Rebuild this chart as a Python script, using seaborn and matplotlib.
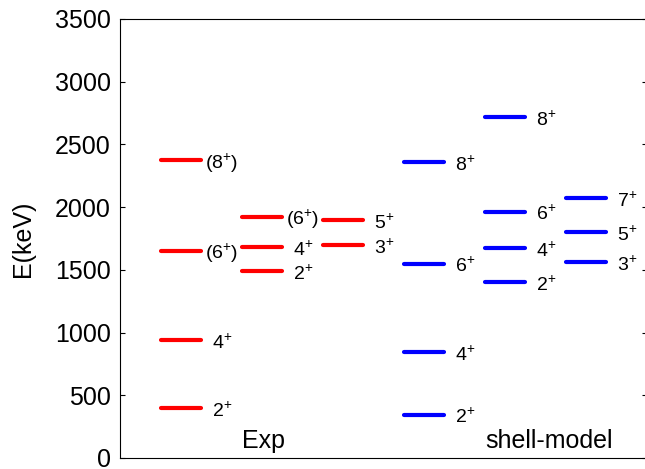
import matplotlib
matplotlib.use("Agg")
import matplotlib.pyplot as plt
import seaborn as sns
import pandas as pd

# Level energies (keV) and spin-parity labels, grouped by column
exp_col1_E = [400, 940, 1650, 2375]
exp_col1_J = ["2^{+}", "4^{+}", "(6^{+})", "(8^{+})"]
exp_col2_E = [1490, 1680, 1925]
exp_col2_J = ["2^{+}", "4^{+}", "(6^{+})"]
exp_col3_E = [1695, 1895]
exp_col3_J = ["3^{+}", "5^{+}"]

sm_col1_E = [345, 845, 1550, 2360]
sm_col1_J = ["2^{+}", "4^{+}", "6^{+}", "8^{+}"]
sm_col2_E = [1400, 1675, 1965, 2720]
sm_col2_J = ["2^{+}", "4^{+}", "6^{+}", "8^{+}"]
sm_col3_E = [1560, 1800, 2070]
sm_col3_J = ["3^{+}", "5^{+}", "7^{+}"]

set_names = ["Exp", "shell-model"]
y_ticks = [0, 500, 1000, 1500, 2000, 2500, 3000, 3500]

columns = [
    ("Exp", exp_col1_E, exp_col1_J),
    ("Exp", exp_col2_E, exp_col2_J),
    ("Exp", exp_col3_E, exp_col3_J),
    ("shell-model", sm_col1_E, sm_col1_J),
    ("shell-model", sm_col2_E, sm_col2_J),
    ("shell-model", sm_col3_E, sm_col3_J),
]

sns.set_theme(style="ticks")
plt.rcParams["font.family"] = ["Liberation Sans", "DejaVu Sans"]
plt.rcParams["mathtext.fontset"] = "custom"
plt.rcParams["mathtext.rm"] = "Liberation Sans"
plt.rcParams["mathtext.it"] = "Liberation Sans:italic"
plt.rcParams["mathtext.bf"] = "Liberation Sans:bold"
plt.rcParams["text.color"] = "black"
plt.rcParams["axes.labelcolor"] = "black"
plt.rcParams["xtick.color"] = "black"
plt.rcParams["ytick.color"] = "black"
plt.rcParams["axes.edgecolor"] = "black"

# Build segment table: each level is a short horizontal line
rows = []
level_id = 0
for ci, (name, energies, spins) in enumerate(columns):
    x0 = 1 + 2 * ci
    for e in energies:
        rows.append({"set": name, "level": level_id, "x": x0, "E": e})
        rows.append({"set": name, "level": level_id, "x": x0 + 1, "E": e})
        level_id += 1
df = pd.DataFrame(rows)

fig = plt.figure(figsize=(6.45, 4.69), dpi=100)
ax = fig.add_axes([0.1868, 0.0235, 0.8162, 0.936])

sns.lineplot(data=df, x="x", y="E", hue="set", units="level", estimator=None,
             palette={"Exp": "#ff0000", "shell-model": "#0000ff"},
             linewidth=3, legend=False, ax=ax)

for ci, (name, energies, spins) in enumerate(columns):
    x0 = 1 + 2 * ci
    for e, j in zip(energies, spins):
        ax.text(x0 + 1.5, e - 22, r"$\mathregular{" + j + "}$",
                ha="center", va="center", fontsize=14, color="black")

ax.text(3, 82, set_names[0], ha="left", va="baseline", fontsize=18, color="black")
ax.text(9, 82, set_names[1], ha="left", va="baseline", fontsize=18, color="black")

ax.set_xlim(0, 13)
ax.set_ylim(0, 3500)
ax.set_yticks(y_ticks)
ax.set_xticks([])
ax.set_xlabel("")
ax.set_ylabel("E(keV)", fontsize=18, labelpad=14, color="black")
ax.tick_params(axis="y", direction="in", length=3.6, width=0.8,
               labelsize=18, pad=7, right=True, left=True,
               colors="black", labelcolor="black")
for sp in ax.spines.values():
    sp.set_visible(True)
    sp.set_linewidth(0.8)
    sp.set_color("black")

fig.savefig("out.png", dpi=100)
